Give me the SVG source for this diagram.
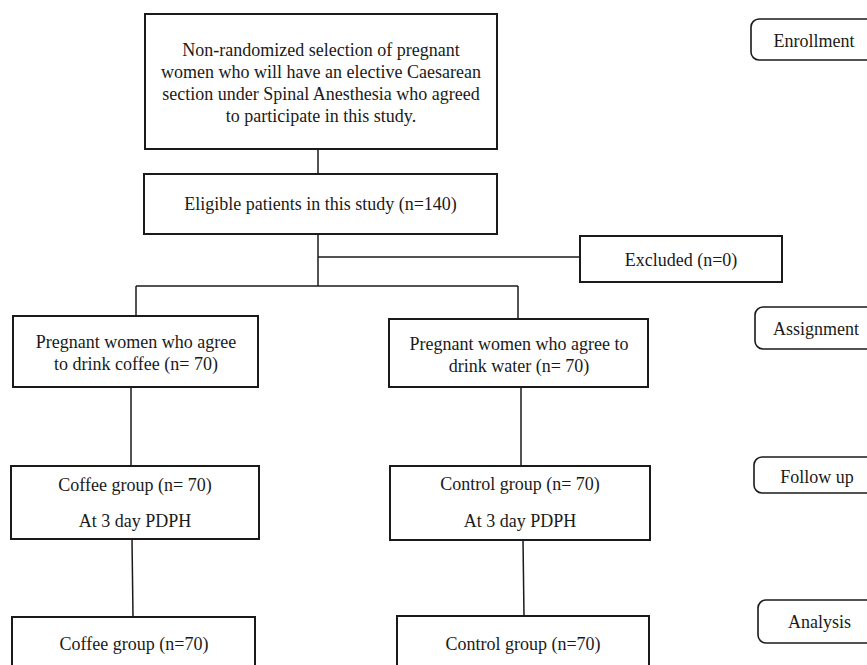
<svg xmlns="http://www.w3.org/2000/svg" width="867" height="665" viewBox="0 0 867 665">
  <style>
    .box { fill: #ffffff; stroke: #1a1a1a; stroke-width: 2; }
    .stage { fill: #ffffff; stroke: #1a1a1a; stroke-width: 1.6; }
    .conn { fill: none; stroke: #1a1a1a; stroke-width: 1.5; }
    text { font-family: "Liberation Serif", "Times New Roman", serif; font-size: 18px; fill: #1a1a1a; text-anchor: middle; }
  </style>
  <rect width="867" height="665" fill="#ffffff"/>
  <g id="connectors">
    <line class="conn" x1="318" y1="149" x2="318" y2="174"/>
    <line class="conn" x1="318" y1="234" x2="318" y2="286"/>
    <line class="conn" x1="318" y1="257" x2="580" y2="257"/>
    <line class="conn" x1="136" y1="286" x2="518" y2="286"/>
    <line class="conn" x1="136" y1="286" x2="136" y2="316"/>
    <line class="conn" x1="518" y1="286" x2="518" y2="319"/>
    <line class="conn" x1="131" y1="387" x2="131" y2="466"/>
    <line class="conn" x1="521" y1="387" x2="521" y2="466"/>
    <line class="conn" x1="132" y1="539" x2="133" y2="617"/>
    <line class="conn" x1="523" y1="540" x2="524" y2="616"/>
  </g>
  <g id="selection">
    <rect class="box" x="145" y="14" width="352" height="135"/>
    <text x="321" y="55.5">Non-randomized selection of pregnant</text>
    <text x="321" y="77.5">women who will have an elective Caesarean</text>
    <text x="321" y="99.5">section under Spinal Anesthesia who agreed</text>
    <text x="321" y="121.5">to participate in this study.</text>
  </g>
  <g id="eligible">
    <rect class="box" x="144" y="174" width="353" height="60"/>
    <text x="320.5" y="210">Eligible patients in this study (n=140)</text>
  </g>
  <g id="excluded">
    <rect class="box" x="580" y="236" width="202" height="46"/>
    <text x="681" y="265.5">Excluded (n=0)</text>
  </g>
  <g id="coffee-assign">
    <rect class="box" x="13" y="316" width="245" height="71"/>
    <text x="136" y="348">Pregnant women who agree</text>
    <text x="136" y="370">to drink coffee (n= 70)</text>
  </g>
  <g id="water-assign">
    <rect class="box" x="389" y="319" width="259" height="68"/>
    <text x="519" y="349.5">Pregnant women who agree to</text>
    <text x="519" y="372">drink water (n= 70)</text>
  </g>
  <g id="coffee-follow">
    <rect class="box" x="11" y="466" width="248" height="73"/>
    <text x="135" y="491">Coffee group (n= 70)</text>
    <text x="135" y="527">At 3 day PDPH</text>
  </g>
  <g id="control-follow">
    <rect class="box" x="390" y="466" width="260" height="74"/>
    <text x="520" y="490">Control group (n= 70)</text>
    <text x="520" y="527">At 3 day PDPH</text>
  </g>
  <g id="coffee-analysis">
    <rect class="box" x="12" y="617" width="243" height="70"/>
    <text x="134" y="650">Coffee group (n=70)</text>
  </g>
  <g id="control-analysis">
    <rect class="box" x="397" y="616" width="252" height="70"/>
    <text x="523" y="649.5">Control group (n=70)</text>
  </g>
  <g id="stage-enrollment">
    <rect class="stage" x="751" y="19" width="140" height="41" rx="8"/>
    <text x="814" y="46.5">Enrollment</text>
  </g>
  <g id="stage-assignment">
    <rect class="stage" x="755" y="307" width="140" height="42" rx="8"/>
    <text x="816" y="335">Assignment</text>
  </g>
  <g id="stage-followup">
    <rect class="stage" x="754" y="457" width="140" height="36" rx="8"/>
    <text x="817" y="482.5">Follow up</text>
  </g>
  <g id="stage-analysis">
    <rect class="stage" x="758" y="600" width="140" height="43" rx="8"/>
    <text x="819.5" y="628">Analysis</text>
  </g>
</svg>
